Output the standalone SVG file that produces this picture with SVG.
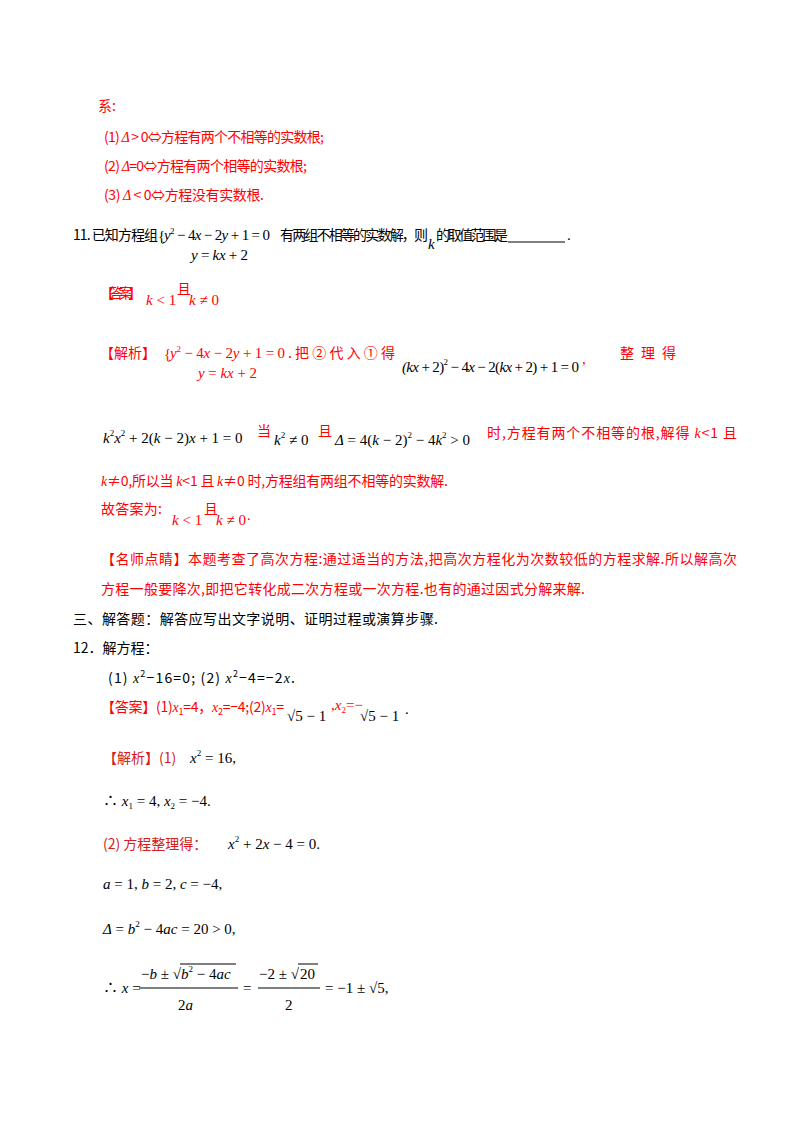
<svg xmlns="http://www.w3.org/2000/svg" width="800" height="1132" viewBox="0 0 800 1132">
<style>
text{font-family:"Liberation Serif","Noto Sans CJK SC",serif;font-size:15px;fill:#000}
.c{font-family:"Noto Sans CJK SC","Liberation Sans",sans-serif;font-size:14px}
.r{fill:#f00}
.dr{fill:#d42020}
.m{font-family:"Liberation Serif","Noto Sans CJK SC",serif;font-style:italic}
.n{font-style:normal}
.s{font-size:9px}
</style>
<rect width="800" height="1132" fill="#fff"/>
<g>
<text class="c r" x="98" y="111">系:</text>
<text class="c r" x="104" y="142" textLength="220">(1) <tspan class="m">Δ</tspan> &gt; 0⇔方程有两个不相等的实数根;</text>
<text class="c r" x="104" y="171" textLength="203">(2) <tspan class="m">Δ</tspan>=0⇔方程有两个相等的实数根;</text>
<text class="c r" x="104" y="200" textLength="160">(3) <tspan class="m">Δ</tspan> &lt; 0⇔方程没有实数根.</text>

<text class="c" x="73" y="240" textLength="85">11. 已知方程组</text>
<text x="158" y="241">{</text>
<text class="m" x="164" y="240" textLength="106">y<tspan class="n s" dy="-6">2</tspan><tspan class="n" dy="6"> − 4</tspan>x<tspan class="n"> − 2</tspan>y<tspan class="n"> + 1 = 0</tspan></text>
<text class="m" x="191" y="260" textLength="57">y<tspan class="n"> = </tspan>kx<tspan class="n"> + 2</tspan></text>
<text class="c" x="280" y="240" textLength="148">有两组不相等的实数解，则</text>
<text class="m" x="428" y="249">k</text>
<text class="c" x="436" y="240" textLength="72">的取值范围是</text>
<line x1="508" y1="242" x2="565" y2="242" stroke="#000" stroke-width="1"/>
<text x="567" y="240">.</text>

<text class="c r" x="100" y="298" textLength="42">【答案】</text>
<text class="m r" x="146" y="305">k<tspan class="n"> &lt; 1</tspan></text>
<text class="c r" x="177" y="294">且</text>
<text class="m r" x="189" y="305">k<tspan class="n"> ≠ 0</tspan></text>

<text class="c r" x="100" y="358" textLength="56">【解析】</text>
<text class="r" x="164" y="359">{</text>
<text class="m r" x="170" y="358" textLength="115">y<tspan class="n s" dy="-6">2</tspan><tspan class="n" dy="6"> − 4</tspan>x<tspan class="n"> − 2</tspan>y<tspan class="n"> + 1 = 0</tspan></text>
<text class="m r" x="198" y="378" textLength="59">y<tspan class="n"> = </tspan>kx<tspan class="n"> + 2</tspan></text>
<text class="c r" x="288" y="358" textLength="107">. 把 ② 代 入 ① 得</text>
<text class="m" x="402" y="372" textLength="177">(kx<tspan class="n"> + 2)</tspan><tspan class="n s" dy="-7">2</tspan><tspan class="n" dy="7"> − 4</tspan>x<tspan class="n"> − 2(</tspan>kx<tspan class="n"> + 2) + 1 = 0</tspan></text>
<text class="r" x="582" y="364">,</text>
<text class="c r" x="620" y="358" textLength="56">整 理 得</text>

<text class="m" x="103" y="443">k<tspan class="n s" dy="-7">2</tspan><tspan dy="7">x</tspan><tspan class="n s" dy="-7">2</tspan><tspan class="n" dy="7"> + 2(</tspan>k<tspan class="n"> − 2)</tspan>x<tspan class="n"> + 1 = 0</tspan></text>
<text class="c r" x="257" y="436">当</text>
<text class="m" x="274" y="445">k<tspan class="n s" dy="-7">2</tspan><tspan class="n" dy="7"> ≠ 0</tspan></text>
<text class="c r" x="318" y="436">且</text>
<text class="m" x="335" y="445">Δ<tspan class="n"> = 4(</tspan>k<tspan class="n"> − 2)</tspan><tspan class="n s" dy="-7">2</tspan><tspan class="n" dy="7"> − 4</tspan>k<tspan class="n s" dy="-7">2</tspan><tspan class="n" dy="7"> &gt; 0</tspan></text>
<text class="c r" x="487" y="438" textLength="250">时,方程有两个不相等的根,解得 <tspan class="m">k</tspan>&lt;1 且</text>

<text class="c r" x="101" y="486" textLength="347"><tspan class="m">k</tspan>≠0,所以当 <tspan class="m">k</tspan>&lt;1 且 <tspan class="m">k</tspan>≠0 时,方程组有两组不相等的实数解.</text>

<text class="c r" x="101" y="514" textLength="61">故答案为:</text>
<text class="m r" x="172" y="525">k<tspan class="n"> &lt; 1</tspan></text>
<text class="c r" x="204" y="514">且</text>
<text class="m r" x="216" y="525">k<tspan class="n"> ≠ 0</tspan></text>
<text class="r" x="247" y="520">.</text>

<text class="c r" x="101" y="564" textLength="636">【名师点睛】本题考查了高次方程:通过适当的方法,把高次方程化为次数较低的方程求解.所以解高次</text>
<text class="c r" x="101" y="594" textLength="484">方程一般要降次,即把它转化成二次方程或一次方程.也有的通过因式分解来解.</text>

<text class="c" x="73" y="624" textLength="365">三、解答题：解答应写出文字说明、证明过程或演算步骤.</text>
<text class="c" x="73" y="653">12．解方程：</text>
<text class="c" x="108" y="683" textLength="187">(1) <tspan class="m">x</tspan><tspan class="s" dy="-6">2</tspan><tspan dy="6">−16=0;  (2) </tspan><tspan class="m">x</tspan><tspan class="s" dy="-6">2</tspan><tspan dy="6">−4=−2</tspan><tspan class="m">x</tspan>.</text>

<text class="c r" x="101" y="712" textLength="183">【答案】<tspan>(1)</tspan><tspan class="m">x</tspan><tspan class="s" dy="3">1</tspan><tspan dy="-3">=4，</tspan><tspan class="m">x</tspan><tspan class="s" dy="3">2</tspan><tspan dy="-3">=−4;(2)</tspan><tspan class="m">x</tspan><tspan class="s" dy="3">1</tspan><tspan dy="-3">=</tspan></text>
<text x="287" y="721" font-size="17">√5 − 1</text>
<text class="r" x="331" y="710" font-size="12">,<tspan class="m">x</tspan><tspan class="s" dy="3">2</tspan><tspan dy="-3">=−</tspan></text>
<text x="360" y="721" font-size="17">√5 − 1</text>
<text x="405" y="714">.</text>

<text class="c dr" x="103" y="763">【解析】(1)</text>
<text class="m" x="190" y="763">x<tspan class="n s" dy="-7">2</tspan><tspan class="n" dy="7"> = 16,</tspan></text>
<text class="m" x="103" y="806"><tspan class="n">∴ </tspan>x<tspan class="n s" dy="3">1</tspan><tspan class="n" dy="-3"> = 4, </tspan>x<tspan class="n s" dy="3">2</tspan><tspan class="n" dy="-3"> = −4.</tspan></text>
<text class="c dr" x="103" y="849">(2) 方程整理得：</text>
<text class="m" x="228" y="849">x<tspan class="n s" dy="-7">2</tspan><tspan class="n" dy="7"> + 2</tspan>x<tspan class="n"> − 4 = 0.</tspan></text>
<text class="m" x="103" y="889">a<tspan class="n"> = 1, </tspan>b<tspan class="n"> = 2, </tspan>c<tspan class="n"> = −4,</tspan></text>
<text class="m" x="103" y="934">Δ<tspan class="n"> = </tspan>b<tspan class="n s" dy="-7">2</tspan><tspan class="n" dy="7"> − 4</tspan>ac<tspan class="n"> = 20 &gt; 0,</tspan></text>

<text class="m" x="103" y="993"><tspan class="n">∴ </tspan>x<tspan class="n"> =</tspan></text>
<text class="m" x="141" y="979"><tspan class="n">−</tspan>b<tspan class="n"> ± √</tspan></text>
<line x1="180" y1="964" x2="236" y2="964" stroke="#000" stroke-width="1"/>
<text class="m" x="181" y="979">b<tspan class="n s" dy="-7">2</tspan><tspan class="n" dy="7"> − 4</tspan>ac</text>
<line x1="139" y1="988" x2="238" y2="988" stroke="#000" stroke-width="1"/>
<text class="m" x="178" y="1010"><tspan class="n">2</tspan>a</text>
<text x="243" y="993">=</text>
<text x="259" y="979">−2 ± √</text>
<line x1="298" y1="964" x2="318" y2="964" stroke="#000" stroke-width="1"/>
<text x="300" y="979">20</text>
<line x1="258" y1="988" x2="320" y2="988" stroke="#000" stroke-width="1"/>
<text x="285" y="1010">2</text>
<text x="325" y="993">= −1 ± √5,</text>
</g>
</svg>
